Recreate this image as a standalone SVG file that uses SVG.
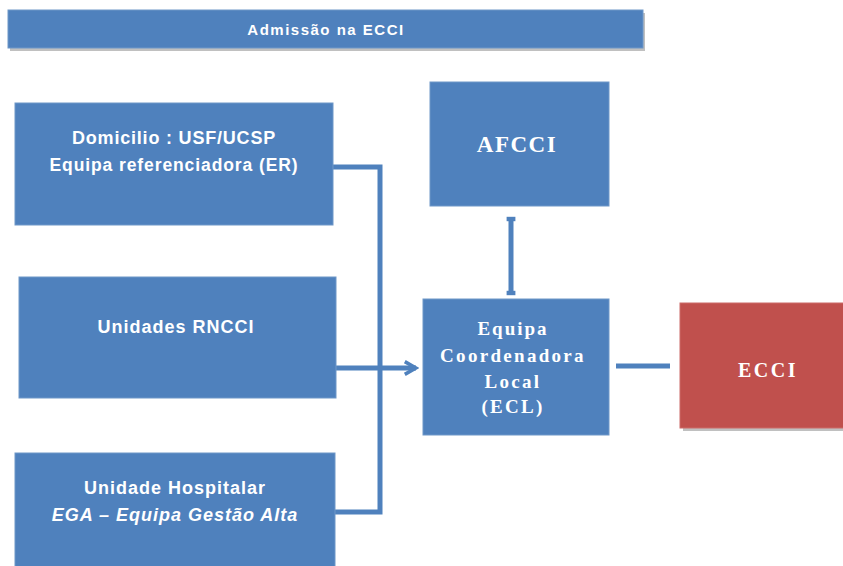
<svg xmlns="http://www.w3.org/2000/svg" width="843" height="566" viewBox="0 0 843 566">
  <style>
    .box { fill: #4F81BD; stroke: #6E97C8; stroke-width: 1; }
    .red { fill: #C0504D; stroke: #CC6B68; stroke-width: 1; }
    .shadow { fill: #8C8C8C; opacity: 0.55; }
    .sans { font-family: "Liberation Sans", Arial, sans-serif; font-weight: bold; fill: #FFFFFF; text-anchor: middle; }
    .serif { font-family: "Liberation Serif", "Times New Roman", serif; font-weight: bold; fill: #FFFFFF; text-anchor: middle; }
    .wire { fill: none; stroke: #4F81BD; stroke-width: 5; }
  </style>
  <defs>
    <marker id="head" viewBox="0 0 10 10" refX="8" refY="5" markerWidth="3.2" markerHeight="3.2" orient="auto" markerUnits="strokeWidth">
      <path d="M1,1 L8,5 L1,9" fill="none" stroke="#4F81BD" stroke-width="2.2"/>
    </marker>
    <marker id="tick" viewBox="0 0 10 10" refX="5" refY="5" markerWidth="2.2" markerHeight="2.2" orient="auto" markerUnits="strokeWidth">
      <rect x="3" y="1" width="4" height="8" fill="#4F81BD"/>
    </marker>
  </defs>

  <!-- header bar -->
  <g id="header">
    <rect class="shadow" x="10" y="13" width="635" height="38"/>
    <rect class="box" x="8" y="10" width="635" height="38"/>
    <text class="sans" x="326" y="35" font-size="15" letter-spacing="1.5">Admissão na ECCI</text>
  </g>

  <!-- connectors -->
  <g id="connectors">
    <path class="wire" d="M333,167 H380 V512 H335"/>
    <path class="wire" d="M336,368 H416" marker-end="url(#head)"/>
    <path class="wire" d="M511,219 V293" marker-start="url(#tick)" marker-end="url(#tick)"/>
    <path class="wire" d="M616,366 H670" stroke-width="6"/>
  </g>

  <g id="domicilio">
    <rect class="box" x="15" y="103" width="318" height="122"/>
    <text class="sans" x="174" y="144" font-size="18" letter-spacing="0.8">Domicilio : USF/UCSP</text>
    <text class="sans" x="174" y="171" font-size="17.5" letter-spacing="0.9">Equipa referenciadora (ER)</text>
  </g>

  <g id="rncci">
    <rect class="box" x="19" y="277" width="317" height="121"/>
    <text class="sans" x="176" y="333" font-size="18" letter-spacing="1">Unidades RNCCI</text>
  </g>

  <g id="hospital">
    <rect class="box" x="15" y="453" width="320" height="120"/>
    <text class="sans" x="175" y="494" font-size="18" letter-spacing="1">Unidade Hospitalar</text>
    <text class="sans" x="175" y="521" font-size="18" letter-spacing="1" font-style="italic">EGA – Equipa Gestão Alta</text>
  </g>

  <g id="afcci">
    <rect class="box" x="430" y="82" width="179" height="124"/>
    <text class="serif" x="517" y="152" font-size="23" letter-spacing="1.5">AFCCI</text>
  </g>

  <g id="ecl">
    <rect class="box" x="423" y="299" width="186" height="136"/>
    <text class="serif" x="513" y="335" font-size="19" letter-spacing="2">Equipa</text>
    <text class="serif" x="513" y="362" font-size="19" letter-spacing="2.3">Coordenadora</text>
    <text class="serif" x="513" y="388" font-size="19" letter-spacing="2.3">Local</text>
    <text class="serif" x="513" y="413" font-size="19" letter-spacing="2.3">(ECL)</text>
  </g>

  <g id="ecci">
    <rect class="shadow" x="683" y="306" width="165" height="125"/>
    <rect class="red" x="680" y="303" width="170" height="125"/>
    <text class="serif" x="768" y="377" font-size="20" letter-spacing="2.5">ECCI</text>
  </g>
</svg>
